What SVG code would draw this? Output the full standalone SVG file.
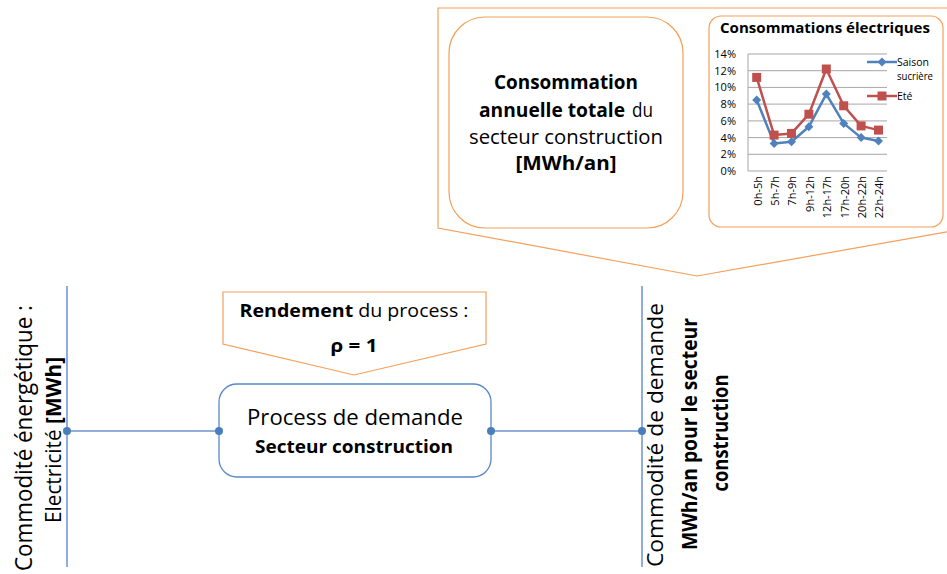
<svg xmlns="http://www.w3.org/2000/svg" width="947" height="574" viewBox="0 0 947 574">
<style>
text{font-family:"Open Sans","Liberation Sans",sans-serif;fill:#000}
.b{font-weight:bold}
.orange{fill:#fff;stroke:#f5a05a;stroke-width:1.2}
.bl{stroke:#6a93cf;stroke-width:1.5;fill:none}
.dot{fill:#4a7ebb}
.grid{stroke:#a6a6a6;stroke-width:1}
.ax{font-size:11px}
.s1{stroke:#4f81bd;stroke-width:2.5;fill:none;stroke-linejoin:round}
.s2{stroke:#c0504d;stroke-width:2.5;fill:none;stroke-linejoin:round}
</style>
<defs>
<marker id="dia" viewBox="-5 -5 10 10" markerWidth="10" markerHeight="10" refX="0" refY="0" markerUnits="userSpaceOnUse"><path d="M0,-4.5 L4.5,0 L0,4.5 L-4.5,0Z" fill="#4f81bd"/></marker>
<marker id="sq" viewBox="-5 -5 10 10" markerWidth="10" markerHeight="10" refX="0" refY="0" markerUnits="userSpaceOnUse"><rect x="-4.5" y="-4.5" width="9" height="9" fill="#c0504d"/></marker>
</defs>

<g id="callout-consommation">
<polygon class="orange" points="438,8 952,8 952,231 697,276 438,228"/>
<rect class="orange" x="449" y="17" width="234" height="211" rx="36"/>
<text x="566" y="89" text-anchor="middle" font-size="20" class="b" textLength="144" lengthAdjust="spacingAndGlyphs">Consommation</text>
<text x="479" y="117" font-size="20" class="b" textLength="146" lengthAdjust="spacingAndGlyphs">annuelle totale</text>
<text x="632" y="117" font-size="20" textLength="21" lengthAdjust="spacingAndGlyphs">du</text>
<text x="566" y="144" text-anchor="middle" font-size="20" textLength="194" lengthAdjust="spacingAndGlyphs">secteur construction</text>
<text x="566" y="170" text-anchor="middle" font-size="20" class="b" textLength="101" lengthAdjust="spacingAndGlyphs">[MWh/an]</text>
</g>

<g id="chart">
<rect class="orange" x="709" y="16" width="234" height="211" rx="12"/>
<text x="825" y="33" text-anchor="middle" font-size="14" class="b" textLength="210" lengthAdjust="spacingAndGlyphs">Consommations électriques</text>
<g class="grid">
<line x1="748" y1="54" x2="887" y2="54"/>
<line x1="748" y1="70.7" x2="887" y2="70.7"/>
<line x1="748" y1="87.4" x2="887" y2="87.4"/>
<line x1="748" y1="104.1" x2="887" y2="104.1"/>
<line x1="748" y1="120.9" x2="887" y2="120.9"/>
<line x1="748" y1="137.6" x2="887" y2="137.6"/>
<line x1="748" y1="154.3" x2="887" y2="154.3"/>
<line x1="748" y1="171" x2="887" y2="171"/>
<line x1="748" y1="54" x2="748" y2="171"/>
</g>
<g class="ax" text-anchor="end">
<text x="736" y="58">14%</text>
<text x="736" y="74.7">12%</text>
<text x="736" y="91.4">10%</text>
<text x="736" y="108.1">8%</text>
<text x="736" y="124.9">6%</text>
<text x="736" y="141.6">4%</text>
<text x="736" y="158.3">2%</text>
<text x="736" y="175">0%</text>
</g>
<g class="ax" text-anchor="end">
<text transform="translate(761.5,176) rotate(-90)">0h-5h</text>
<text transform="translate(778.9,176) rotate(-90)">5h-7h</text>
<text transform="translate(796.3,176) rotate(-90)">7h-9h</text>
<text transform="translate(813.7,176) rotate(-90)">9h-12h</text>
<text transform="translate(831.1,176) rotate(-90)">12h-17h</text>
<text transform="translate(848.5,176) rotate(-90)">17h-20h</text>
<text transform="translate(865.9,176) rotate(-90)">20h-22h</text>
<text transform="translate(883.3,176) rotate(-90)">22h-24h</text>
</g>
<polyline class="s1" marker-start="url(#dia)" marker-mid="url(#dia)" marker-end="url(#dia)" points="756.7,100 774.1,143.4 791.5,141.8 808.9,126.7 826.3,94.1 843.7,123.4 861.1,137.6 878.5,140.9"/>
<polyline class="s2" marker-start="url(#sq)" marker-mid="url(#sq)" marker-end="url(#sq)" points="756.7,77.4 774.1,135.1 791.5,133.4 808.9,114.2 826.3,69 843.7,105.8 861.1,125.9 878.5,130.1"/>
<path class="s1" d="M867,62 L882,62 L897,62" marker-mid="url(#dia)"/>
<path class="s2" d="M867,96 L882,96 L897,96" marker-mid="url(#sq)"/>
<text x="897" y="66" font-size="10.5">Saison</text>
<text x="897" y="80" font-size="10.5" textLength="36" lengthAdjust="spacingAndGlyphs">sucrière</text>
<text x="897" y="100" font-size="10.5">Eté</text>
</g>

<g id="callout-rendement">
<polygon class="orange" points="223,292 486,292 486,344 354,375 223,344"/>
<text x="354" y="317" text-anchor="middle" font-size="18" textLength="229" lengthAdjust="spacingAndGlyphs"><tspan class="b">Rendement</tspan> du process :</text>
<text x="354" y="352" text-anchor="middle" font-size="18" class="b" textLength="47" lengthAdjust="spacingAndGlyphs">ρ = 1</text>
</g>

<g id="process">
<rect x="219" y="384" width="272" height="93" rx="18" fill="#fff" stroke="#5a88c6" stroke-width="1.3"/>
<text x="355" y="425" text-anchor="middle" font-size="21" textLength="216" lengthAdjust="spacingAndGlyphs">Process de demande</text>
<text x="354" y="453" text-anchor="middle" font-size="18" class="b" textLength="198" lengthAdjust="spacingAndGlyphs">Secteur construction</text>
</g>

<g id="connectors">
<line class="bl" x1="67" y1="286" x2="67" y2="567"/>
<line class="bl" x1="642" y1="286" x2="642" y2="567"/>
<line class="bl" x1="67" y1="431" x2="219" y2="431"/>
<line class="bl" x1="491" y1="431" x2="642" y2="431"/>
<circle class="dot" cx="67" cy="431" r="4"/>
<circle class="dot" cx="219" cy="431" r="4"/>
<circle class="dot" cx="491" cy="431" r="4"/>
<circle class="dot" cx="642" cy="431" r="4"/>
</g>

<g id="commodity-in">
<text transform="translate(32,438) rotate(-90)" text-anchor="middle" font-size="23" textLength="266" lengthAdjust="spacingAndGlyphs">Commodité énergétique :</text>
<text transform="translate(61,440) rotate(-90)" text-anchor="middle" font-size="22" textLength="166" lengthAdjust="spacingAndGlyphs">Electricité <tspan class="b">[MWh]</tspan></text>
</g>

<g id="commodity-out">
<text transform="translate(663,435) rotate(-90)" text-anchor="middle" font-size="22" textLength="264" lengthAdjust="spacingAndGlyphs">Commodité de demande</text>
<text transform="translate(697,434) rotate(-90)" text-anchor="middle" font-size="21" class="b" textLength="232" lengthAdjust="spacingAndGlyphs">MWh/an pour le secteur</text>
<text transform="translate(728,433) rotate(-90)" text-anchor="middle" font-size="21" class="b" textLength="117" lengthAdjust="spacingAndGlyphs">construction</text>
</g>
</svg>
